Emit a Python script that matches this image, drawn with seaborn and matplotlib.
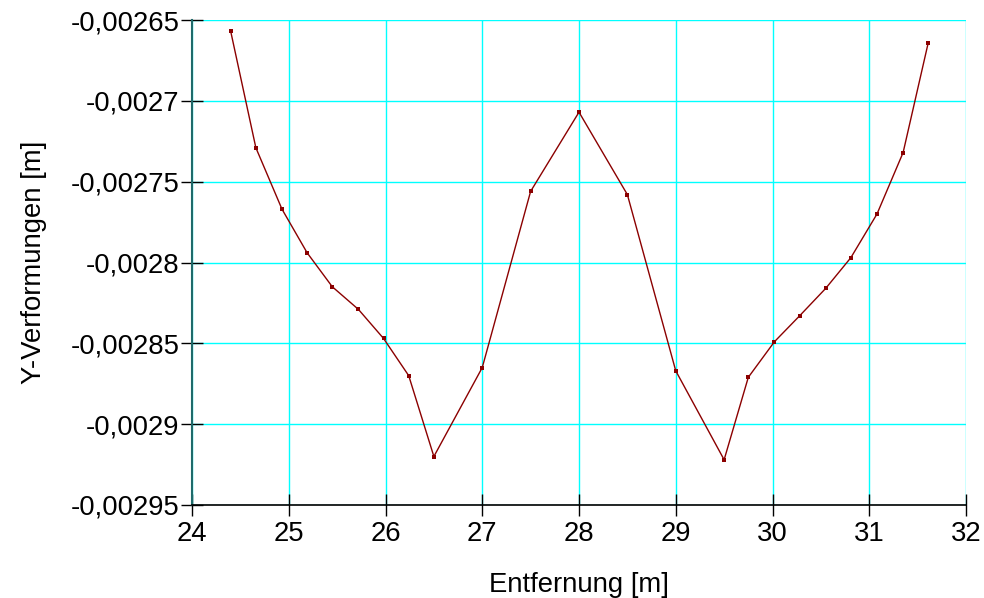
import matplotlib
matplotlib.use("Agg")
import matplotlib.pyplot as plt
import seaborn as sns
import pandas as pd
from matplotlib.ticker import FuncFormatter, MultipleLocator

x_values = [24.4, 24.66, 24.93, 25.19, 25.45, 25.72, 25.98, 26.24, 26.5, 27.0, 27.5, 28.0,
            28.5, 29.0, 29.5, 29.75, 30.02, 30.28, 30.55, 30.81, 31.08, 31.35, 31.61]
y_values = [-0.002657, -0.002729, -0.002767, -0.002794, -0.002815, -0.002829, -0.002847,
            -0.002870, -0.002920, -0.002865, -0.002756, -0.002707, -0.002758, -0.002867,
            -0.002922, -0.002871, -0.002849, -0.002833, -0.002816, -0.002797, -0.002770,
            -0.002732, -0.002664]
x_label = "Entfernung [m]"
y_label = "Y-Verformungen [m]"

df = pd.DataFrame({"x": x_values, "y": y_values})

sns.set_theme(style="white")
plt.rcParams['font.family'] = ['Liberation Sans', 'DejaVu Sans']

fig = plt.figure(figsize=(9.84, 5.98), dpi=100)
ax = fig.add_axes([192/984, 1-505/598, (966-192)/984, (505-20)/598])

sns.lineplot(data=df, x="x", y="y", ax=ax, color="#8b0000", linewidth=1.0,
             marker="s", markersize=3, markeredgewidth=0, zorder=3)

ax.set_xlim(24, 32)
ax.set_ylim(-0.00295, -0.00265)
ax.xaxis.set_major_locator(MultipleLocator(1))
ax.yaxis.set_major_locator(MultipleLocator(0.00005))
ax.yaxis.set_major_formatter(FuncFormatter(lambda v, p: ("%g" % round(v, 6)).replace(".", ",")))
ax.xaxis.set_major_formatter(FuncFormatter(lambda v, p: "%g" % v))

ax.grid(True, color="#00ffff", linewidth=1.0, alpha=1)
ax.set_axisbelow(True)
for s in ["top", "right"]:
    ax.spines[s].set_visible(False)
ax.spines["left"].set_color("#1f6b6b")
ax.spines["left"].set_linewidth(1.5)
ax.spines["bottom"].set_color("black")
ax.spines["bottom"].set_linewidth(1.2)

ax.tick_params(axis="both", direction="inout", length=16, width=1, colors="black",
               labelsize=19.8, bottom=True, left=True)
ax.tick_params(axis="x", pad=3.5)
ax.tick_params(axis="y", pad=1)
ax.set_xlabel(x_label, fontsize=19.8, labelpad=18, color="black")
ax.set_ylabel(y_label, fontsize=19.8, labelpad=17, color="black")

fig.savefig("out.png", dpi=100)
